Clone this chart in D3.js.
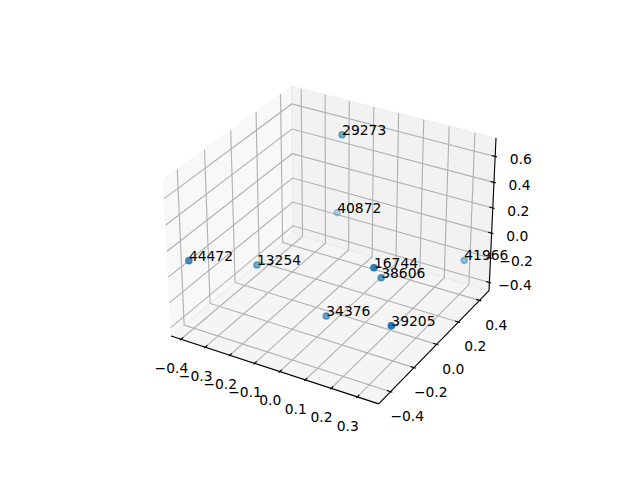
<!DOCTYPE html>
<html>
<head>
<meta charset="utf-8">
<script src="https://cdn.jsdelivr.net/npm/d3@7"></script>
<style>
  body { margin: 0; background: #fff; }
  svg { display: block; }
  text { font-family: "DejaVu Sans"; font-size: 13.89px; fill: #000; }
</style>
</head>
<body>
<div id="vis"></div>
<script>
// values
const labels = [29273, 40872, 44472, 13254, 16744, 38606, 41966, 34376, 39205];
const xs = [-0.11, -0.165, -0.38, -0.253, 0.221, 0.166, 0.321, 0.018, 0.336];
const ys = [0.24, 0.315, -0.451, -0.175, -0.198, -0.013, 0.384, -0.159, -0.301];
const zs = [0.701, 0.003, 0.124, -0.067, 0.208, -0.058, -0.164, -0.325, -0.076];

const xTicks = [-0.4, -0.3, -0.2, -0.1, 0, 0.1, 0.2, 0.3];
const yTicks = [-0.4, -0.2, 0, 0.2, 0.4];
const zTicks = [-0.4, -0.2, 0, 0.2, 0.4, 0.6];

const xlim = [-0.441, 0.381];
const ylim = [-0.498, 0.492];
const zlim = [-0.468, 0.74];

const width = 640;
const height = 480;

// box and camera, same numbers as a default mplot3d axes (elev 30, azim -60)
const k = (1.8294640721620434 * 25) / 24 / Math.sqrt(41);
const box = [4 * k, 4 * k, 3 * k];
const centre = box.map((b) => b / 2);
const dist = 10;
const elev = (30 * Math.PI) / 180;
const azim = (-60 * Math.PI) / 180;

const dot = (a, b) => a[0] * b[0] + a[1] * b[1] + a[2] * b[2];
const cross = (a, b) => [
  a[1] * b[2] - a[2] * b[1],
  a[2] * b[0] - a[0] * b[2],
  a[0] * b[1] - a[1] * b[0],
];

const w = [
  Math.cos(elev) * Math.cos(azim),
  Math.cos(elev) * Math.sin(azim),
  Math.sin(elev),
];
const uRaw = cross([0, 0, 1], w);
const uLen = Math.hypot(...uRaw);
const u = uRaw.map((c) => c / uLen);
const v = cross(w, u);

const xScale = d3.scaleLinear().domain(xlim).range([0, box[0]]);
const yScale = d3.scaleLinear().domain(ylim).range([0, box[1]]);
const zScale = d3.scaleLinear().domain(zlim).range([0, box[2]]);
const screenX = d3.scaleLinear().domain([-0.095, 0.09]).range([143.2, 512.8]);
const screenY = d3.scaleLinear().domain([-0.095, 0.09]).range([427.2, 57.6]);

function centred(p) {
  return [
    xScale(p[0]) - centre[0],
    yScale(p[1]) - centre[1],
    zScale(p[2]) - centre[2],
  ];
}

function depth(p) {
  return dot(centred(p), w);
}

function project(p) {
  const q = centred(p);
  const f = dist - dot(q, w);
  return [screenX(dot(q, u) / f), screenY(dot(q, v) / f)];
}

const line = d3
  .line()
  .x((d) => project(d)[0])
  .y((d) => project(d)[1]);

const svg = d3
  .select("#vis")
  .append("svg")
  .attr("width", width)
  .attr("height", height);

const [x0, x1] = xlim;
const [y0, y1] = ylim;
const [z0, z1] = zlim;

// panes
const panes = [
  { c: [[x0, y0, z0], [x0, y1, z0], [x0, y1, z1], [x0, y0, z1]], g: 242 },
  { c: [[x0, y1, z0], [x1, y1, z0], [x1, y1, z1], [x0, y1, z1]], g: 230 },
  { c: [[x0, y0, z0], [x1, y0, z0], [x1, y1, z0], [x0, y1, z0]], g: 236 },
];
panes.forEach((p) => {
  const col = `rgba(${p.g},${p.g},${p.g},0.5)`;
  svg
    .append("path")
    .attr("d", line(p.c) + "Z")
    .attr("fill", col)
    .attr("stroke", col)
    .attr("stroke-width", 1.11);
});

// grid
const grid = svg
  .append("g")
  .attr("fill", "none")
  .attr("stroke", "#b0b0b0")
  .attr("stroke-width", 1.11);
xTicks.forEach((t) =>
  grid.append("path").attr("d", line([[t, y0, z0], [t, y1, z0], [t, y1, z1]]))
);
yTicks.forEach((t) =>
  grid.append("path").attr("d", line([[x1, t, z0], [x0, t, z0], [x0, t, z1]]))
);
zTicks.forEach((t) =>
  grid.append("path").attr("d", line([[x0, y0, t], [x0, y1, t], [x1, y1, t]]))
);

// axis lines
const axes = svg
  .append("g")
  .attr("fill", "none")
  .attr("stroke", "#000")
  .attr("stroke-width", 1.11);
axes.append("path").attr("d", line([[x0, y0, z0], [x1, y0, z0]]));
axes.append("path").attr("d", line([[x1, y0, z0], [x1, y1, z0]]));
axes.append("path").attr("d", line([[x1, y1, z0], [x1, y1, z1]]));

const dx = (x1 - x0) / 12;
const dy = (y1 - y0) / 12;
const fmt = (t) => d3.format(".1f")(t).replace("-", "\u2212");

function tickLabel(p, ox, oy, t) {
  const s = project(p);
  svg
    .append("text")
    .attr("x", s[0] + ox)
    .attr("y", s[1] + oy)
    .attr("text-anchor", "middle")
    .attr("dy", "0.35em")
    .text(fmt(t));
}

xTicks.forEach((t) => {
  axes
    .append("path")
    .attr("d", line([[t, y0 - 0.1 * dy, z0], [t, y0 + 0.2 * dy, z0]]));
  tickLabel([t, y0, z0], -9.5, 28.8, t);
});
yTicks.forEach((t) => {
  axes
    .append("path")
    .attr("d", line([[x1 + 0.1 * dx, t, z0], [x1 - 0.2 * dx, t, z0]]));
  tickLabel([x1, t, z0], 16.7, 24.5, t);
});
zTicks.forEach((t) => {
  axes
    .append("path")
    .attr("d", line([[x1 + 0.1 * dx, y1, t], [x1 - 0.2 * dx, y1, t]]));
  tickLabel([x1, y1, t], 25.6, 3, t);
});

// points, far ones fade out and are drawn first
const points = labels.map((l, i) => ({ label: l, p: [xs[i], ys[i], zs[i]] }));
const alpha = d3
  .scaleLinear()
  .domain(d3.extent(points, (d) => depth(d.p)))
  .range([0.3, 1]);

svg
  .selectAll("circle")
  .data(points.slice().sort((a, b) => depth(a.p) - depth(b.p)))
  .enter()
  .append("circle")
  .attr("cx", (d) => project(d.p)[0])
  .attr("cy", (d) => project(d.p)[1])
  .attr("r", 3.1)
  .attr("fill", "#1f77b4")
  .attr("stroke", "#1f77b4")
  .attr("stroke-width", 1.39)
  .attr("fill-opacity", (d) => alpha(depth(d.p)))
  .attr("stroke-opacity", (d) => alpha(depth(d.p)));

svg
  .selectAll(".label")
  .data(points)
  .enter()
  .append("text")
  .attr("class", "label")
  .attr("x", (d) => project(d.p)[0])
  .attr("y", (d) => project(d.p)[1])
  .text((d) => d.label);
</script>
</body>
</html>
